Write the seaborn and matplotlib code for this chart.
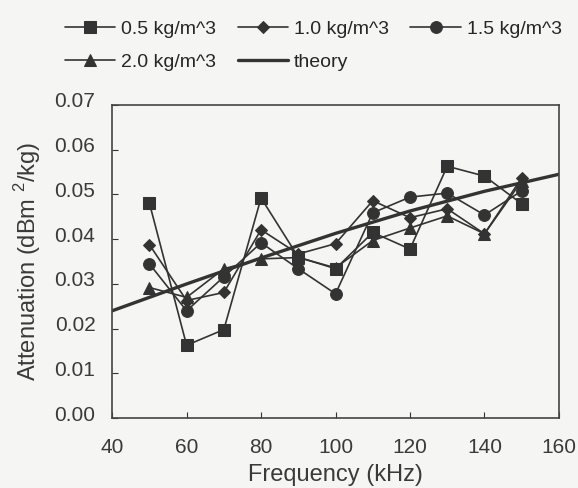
# attenuation vs frequency for several densities, with theory curve
import numpy as np
import pandas as pd
import seaborn as sns
import matplotlib.pyplot as plt
import matplotlib.transforms as mtransforms

freq = [50, 60, 70, 80, 90, 100, 110, 120, 130, 140, 150]
att_05 = [0.0481, 0.0163, 0.0198, 0.0492, 0.0360, 0.0334, 0.0415, 0.0378, 0.0563, 0.0541, 0.0479]
att_10 = [0.0388, 0.0263, 0.0281, 0.0421, 0.0367, 0.0390, 0.0486, 0.0448, 0.0468, 0.0412, 0.0537]
att_15 = [0.0345, 0.0240, 0.0316, 0.0392, 0.0334, 0.0278, 0.0459, 0.0494, 0.0503, 0.0454, 0.0508]
att_20 = [0.0292, 0.0270, 0.0334, 0.0356, 0.0359, 0.0336, 0.0397, 0.0425, 0.0452, 0.0412, 0.0530]

theory_freq = [40, 60, 80, 100, 120, 140, 160]
theory_att = [0.0240, 0.0300, 0.0358, 0.0413, 0.0463, 0.0507, 0.0545]

series_names = ["0.5 kg/m^3", "1.0 kg/m^3", "1.5 kg/m^3", "2.0 kg/m^3"]
series_markers = ["s", "D", "o", "^"]
series_sizes = [9, 6, 8.5, 8]

bg = "#f5f5f3"
ink = "#333333"
txt = "#3a3a3a"

sns.set_style("ticks")
plt.rcParams["font.family"] = ["Liberation Sans", "DejaVu Sans"]

fig = plt.figure(figsize=(5.78, 4.88), dpi=100, facecolor=bg)
ax = fig.add_axes([0.194, 0.143, 0.773, 0.642], facecolor=bg)

for name, vals, mk, ms in zip(series_names, [att_05, att_10, att_15, att_20], series_markers, series_sizes):
    df = pd.DataFrame({"freq": freq, "att": vals})
    sns.lineplot(data=df, x="freq", y="att", ax=ax, color=ink, lw=1.2,
                 marker=mk, markersize=ms, markeredgecolor=ink, markerfacecolor=ink,
                 label=name)

th = pd.DataFrame({"freq": theory_freq, "att": theory_att})
sns.lineplot(data=th, x="freq", y="att", ax=ax, color=ink, lw=2.4, label="theory")

ax.set_xlim(40, 160)
ax.set_ylim(0, 0.07)
ax.set_xticks(np.arange(40, 161, 20))
ax.set_yticks(np.arange(0, 0.071, 0.01))
ax.set_yticklabels([f"{v:.2f}" for v in np.arange(0, 0.071, 0.01)])
ax.tick_params(direction="in", length=4, color=ink, labelsize=15, labelcolor=txt)
ax.tick_params(axis="y", pad=12)
ax.tick_params(axis="x", pad=14)
# y labels sit a little above their ticks in the original
shift = mtransforms.ScaledTranslation(0, 5 / 100, fig.dpi_scale_trans)
for lab in ax.get_yticklabels():
    lab.set_transform(lab.get_transform() + shift)
for s in ax.spines.values():
    s.set_color("#444444")
    s.set_linewidth(1.2)

ax.set_xlabel("Frequency (kHz)", fontsize=17, color=txt, labelpad=5)
ax.set_ylabel("Attenuation (dBm $^{\\mathregular{2}}$/kg)", fontsize=17, color=txt, labelpad=8)

# reorder so the legend fills row by row like the original
h, l = ax.get_legend_handles_labels()
order = [0, 3, 1, 4, 2]
ax.get_legend().remove()
fig.legend([h[i] for i in order], [l[i] for i in order],
           loc="upper left", bbox_to_anchor=(0.112, 0.958), ncol=3, frameon=False,
           fontsize=14, handlelength=2.6, handletextpad=0.3, columnspacing=1.1,
           labelspacing=0.8, borderaxespad=0, borderpad=0)

fig.savefig("out.png", dpi=100, facecolor=bg)
